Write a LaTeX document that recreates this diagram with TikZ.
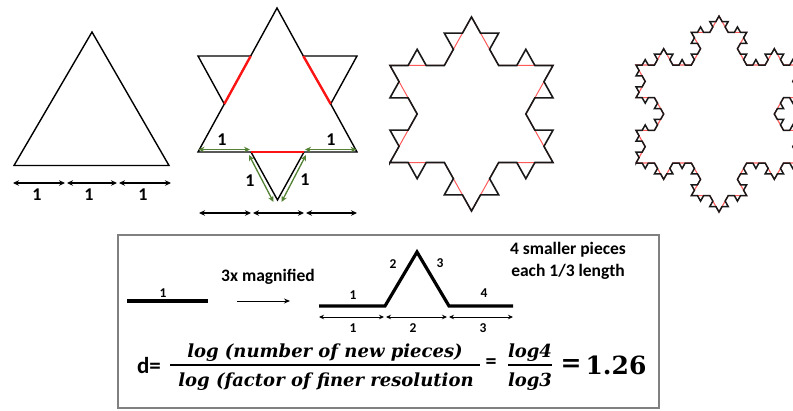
\documentclass[tikz,border=0pt]{standalone}
\usepackage{fontspec}
\setsansfont{Carlito}
\newfontfamily\formfont{DejaVu Serif}
\usetikzlibrary{arrows.meta,lindenmayersystems}
\pgfdeclarelindenmayersystem{Koch}{\rule{F -> F-F++F-F}}
\definecolor{kgreen}{RGB}{84,130,53}
\definecolor{kred}{RGB}{250,20,20}
\definecolor{lred}{RGB}{255,90,90}
\definecolor{boxgray}{RGB}{128,128,128}
\begin{document}
\begin{tikzpicture}[x=1pt,y=-1pt,
  dimarrow/.style={{Stealth[length=6pt,width=5.5pt]}-{Stealth[length=6pt,width=5.5pt]}, line width=1.2pt},
  garrow/.style={{Stealth[length=6pt,width=5.5pt]}-{Stealth[length=6pt,width=5.5pt]}, line width=1.3pt, draw=kgreen, color=kgreen},
  thinarrow/.style={{Stealth[length=5pt,width=4.5pt]}-{Stealth[length=5pt,width=4.5pt]}, line width=0.9pt},
  lbl/.style={font=\sffamily\bfseries\fontsize{18}{18}\selectfont, inner sep=0pt},
  smalllbl/.style={font=\sffamily\bfseries\fontsize{13.5}{13.5}\selectfont, inner sep=0pt},
  bigtxt/.style={font=\sffamily\bfseries\fontsize{17.5}{21.5}\selectfont, inner sep=0pt, align=center},
  tri/.style={line width=1.4pt, line join=miter},
  gen/.style={line width=3.2pt, line join=miter},
  formtxt/.style={font=\formfont\bfseries\itshape\fontsize{18}{18}\selectfont, inner sep=0pt},
  formup/.style={font=\formfont\bfseries\fontsize{25}{25}\selectfont, inner sep=0pt},
]
\clip (0,0) rectangle (793,410);
\fill[white] (0,0) rectangle (793,410);

% ---------- level 0 ----------
\coordinate (A0) at (14,165.5);
\coordinate (B0) at (169,165.5);
\coordinate (C0) at (92,32);
\draw[tri] (A0) -- (B0) -- (C0) -- cycle;
\coordinate (a1) at (13,183);
\coordinate (a2) at (65,183);
\coordinate (a2b) at (67,183);
\coordinate (a3) at (117,183);
\coordinate (a3b) at (119,183);
\coordinate (a4) at (171,183);
\draw[dimarrow] (a1) -- (a2);
\draw[dimarrow] (a2b) -- (a3);
\draw[dimarrow] (a3b) -- (a4);
\node[lbl] (l01) at (37,194.5) {1};
\node[lbl] (l02) at (89,194.5) {1};
\node[lbl] (l03) at (143,194.5) {1};

% ---------- level 1 ----------
\coordinate (P1) at (198,152);
\coordinate (P2) at (224.3,104);
\coordinate (P3) at (198,56);
\coordinate (P4) at (250.7,56);
\coordinate (P5) at (277,8);
\coordinate (P6) at (303.3,56);
\coordinate (P7) at (357,56);
\coordinate (P8) at (330.7,104);
\coordinate (P9) at (357,152);
\coordinate (P10) at (304,152);
\coordinate (P11) at (277.5,200);
\coordinate (P12) at (251,152);
\draw[tri] (P1) -- (P2) -- (P3) -- (P4) -- (P5) -- (P6) -- (P7) -- (P8) -- (P9) -- (P10) -- (P11) -- (P12) -- cycle;
\draw[kred, line width=2.4pt] (P2) -- (P4);
\draw[kred, line width=2.4pt] (P6) -- (P8);
\draw[kred, line width=2.4pt] (P12) -- (P10);
% green arrows
\coordinate (g1) at (198.5,149.5);
\coordinate (g2) at (250,149.5);
\coordinate (g3) at (305,149.5);
\coordinate (g4) at (356.5,149.5);
\coordinate (g5) at (249,155);
\coordinate (g6) at (273.5,202);
\coordinate (g7) at (306,155);
\coordinate (g8) at (281.5,202);
\draw[garrow] (g1) -- (g2);
\draw[garrow] (g3) -- (g4);
\draw[garrow] (g5) -- (g6);
\draw[garrow] (g7) -- (g8);
\node[lbl] (l11) at (222,140) {1};
\node[lbl] (l12) at (331,140) {1};
\node[lbl] (l13) at (250,181) {1};
\node[lbl] (l14) at (305,180) {1};
% bottom arrows
\coordinate (b1) at (199,213);
\coordinate (b2) at (251,213);
\coordinate (b3) at (253,213);
\coordinate (b4) at (304,213);
\coordinate (b5) at (306,213);
\coordinate (b6) at (357,213);
\draw[dimarrow] (b1) -- (b2);
\draw[dimarrow] (b3) -- (b4);
\draw[dimarrow] (b5) -- (b6);

% ---------- level 2 ----------
\begin{scope}[shift={(390,162.5)}, yscale=1.031]
\coordinate (S2) at (0,0);
\draw[lred, line width=1pt, lindenmayer system={Koch, axiom=F++F++F, order=1, step=54.333pt, angle=60}] (S2) lindenmayer system -- cycle;
\draw[black!90, line width=1.6pt, line join=miter, lindenmayer system={Koch, axiom=F++F++F, order=2, step=18.111pt, angle=60}] (S2) lindenmayer system -- cycle;
\end{scope}

% ---------- level 3 ----------
\begin{scope}[shift={(636,163)}, yscale=1.0225]
\coordinate (S3) at (0,0);
\draw[lred, line width=1.1pt, lindenmayer system={Koch, axiom=F++F++F, order=2, step=18.444pt, angle=60}] (S3) lindenmayer system -- cycle;
\draw[black!90, line width=1.5pt, line join=miter, lindenmayer system={Koch, axiom=F++F++F, order=3, step=6.148pt, angle=60}] (S3) lindenmayer system -- cycle;
\end{scope}

% ---------- box ----------
\draw[boxgray, line width=1.3pt] (118,235) rectangle (659,408);
\coordinate (s1) at (127,301);
\coordinate (s2) at (208,301);
\draw[gen] (s1) -- (s2);
\node[smalllbl] (ls1) at (163,293) {1};
\node[bigtxt] (mag) at (268,277) {3x magnified};
\coordinate (m1) at (237,301);
\coordinate (m2) at (290,301);
\draw[line width=0.9pt, -{Stealth[length=6pt,width=5pt]}] (m1) -- (m2);
\coordinate (K1) at (319,306);
\coordinate (K2) at (385,306);
\coordinate (K3) at (417,252);
\coordinate (K4) at (449,306);
\coordinate (K5) at (513,306);
\draw[gen] (K1) -- (K2) -- (K3) -- (K4) -- (K5);
\node[smalllbl] (lk1) at (353,295) {1};
\node[smalllbl] (lk2) at (393,264) {2};
\node[smalllbl] (lk3) at (440,263) {3};
\node[smalllbl] (lk4) at (484,293) {4};
\coordinate (c1) at (319,317);
\coordinate (c2) at (384,317);
\coordinate (c3) at (386,317);
\coordinate (c4) at (447,317);
\coordinate (c5) at (449,317);
\coordinate (c6) at (513,317);
\draw[thinarrow] (c1) -- (c2);
\draw[thinarrow] (c3) -- (c4);
\draw[thinarrow] (c5) -- (c6);
\node[smalllbl] (lc1) at (353,328) {1};
\node[smalllbl] (lc2) at (413,328) {2};
\node[smalllbl] (lc3) at (483,328) {3};
\node[bigtxt] (pieces) at (568,261) {4 smaller pieces\\each 1/3 length};

% formula
\node[font=\sffamily\bfseries\fontsize{23}{23}\selectfont, inner sep=0pt, anchor=base] (d) at (149,373) {d=};
\coordinate (f1) at (170,365);
\coordinate (f2) at (480,365);
\draw[line width=1.6pt] (f1) -- (f2);
\node[formtxt, anchor=base] (num) at (325,357) {log (number of new pieces)};
\node[formtxt, anchor=base] (den) at (326,386) {log (factor of finer resolution};
\node[font=\sffamily\bfseries\fontsize{22}{22}\selectfont, inner sep=0pt] (eq1) at (491,364) {=};
\coordinate (h1) at (508,365);
\coordinate (h2) at (552,365);
\draw[line width=1.6pt] (h1) -- (h2);
\node[formtxt, anchor=base] (num2) at (530,357) {log4};
\node[formtxt, anchor=base] (den2) at (530,386) {log3};
\node[formup] (eq2) at (571,365) {=};
\node[formup, anchor=base] (val) at (616,374) {1.26};
\end{tikzpicture}
\end{document}
